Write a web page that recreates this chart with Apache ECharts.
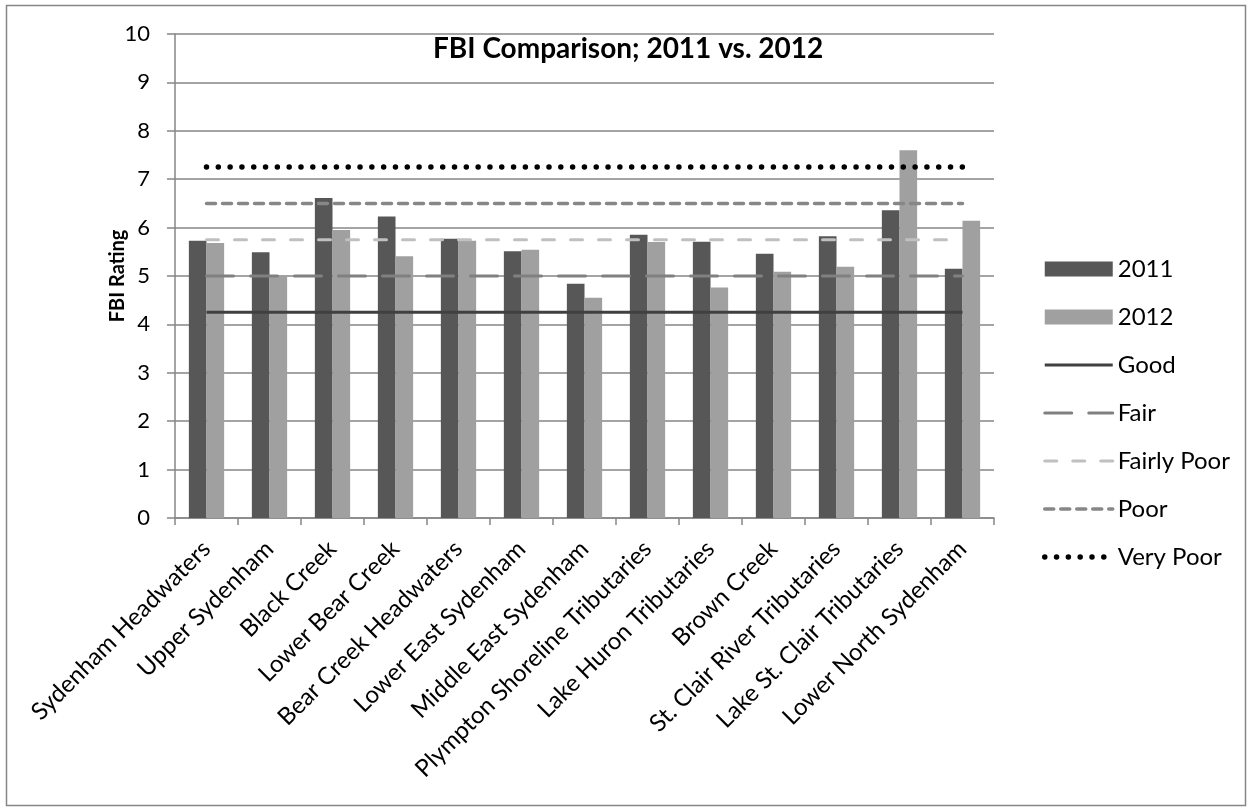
<!DOCTYPE html>
<html>
<head>
<meta charset="utf-8">
<title>FBI Comparison</title>
<script src="https://cdn.jsdelivr.net/npm/echarts@6/dist/echarts.min.js"></script>
<style>
  html, body { margin: 0; padding: 0; background: #fff; }
  #chart { width: 1253px; height: 812px; }
</style>
</head>
<body>
<div id="chart"></div>
<script>
// 分类（流域）
var categories = [
  'Sydenham Headwaters', 'Upper Sydenham', 'Black Creek', 'Lower Bear Creek',
  'Bear Creek Headwaters', 'Lower East Sydenham', 'Middle East Sydenham',
  'Plympton Shoreline Tributaries', 'Lake Huron Tributaries', 'Brown Creek',
  'St. Clair River Tributaries', 'Lake St. Clair Tributaries', 'Lower North Sydenham'
];
// FBI values
var fbi2011 = [5.73, 5.49, 6.61, 6.23, 5.77, 5.51, 4.84, 5.85, 5.71, 5.46, 5.82, 6.36, 5.15];
var fbi2012 = [5.68, 5.02, 5.95, 5.41, 5.73, 5.54, 4.55, 5.70, 4.76, 5.09, 5.19, 7.60, 6.14];
// rating thresholds
var ratingNames = ['Good', 'Fair', 'Fairly Poor', 'Poor', 'Very Poor'];
var ratingValues = [4.25, 5.0, 5.75, 6.5, 7.25];
var yTicks = [0, 1, 2, 3, 4, 5, 6, 7, 8, 9, 10];

var font = 'Lato, "Liberation Sans", sans-serif';
var gridColor = '#868686';

var chart = echarts.init(document.getElementById('chart'));

// line styles for the threshold series
var ratingStyles = [
  { color: '#404040', width: 3, type: 'solid' },
  { color: '#808080', width: 3, type: [27, 17], cap: 'round' },
  { color: '#c0c0c0', width: 3, type: [12, 16], cap: 'round' },
  { color: '#878787', width: 3.5, type: [9, 7], cap: 'round' },
  { color: '#000000', width: 5.5, type: [0.01, 11.8], cap: 'round' }
];

var series = [
  {
    name: '2011', type: 'bar', data: fbi2011,
    barGap: '0%', barCategoryGap: '44%',
    itemStyle: { color: '#575757' }
  },
  {
    name: '2012', type: 'bar', data: fbi2012,
    itemStyle: { color: '#a0a0a0' }
  }
];
ratingNames.forEach(function (n, i) {
  series.push({
    name: n, type: 'line',
    data: categories.map(function () { return ratingValues[i]; }),
    symbol: 'none',
    lineStyle: ratingStyles[i],
    itemStyle: { color: ratingStyles[i].color },
    z: 3
  });
});

var option = {
  animation: false,
  textStyle: { fontFamily: font },
  title: {
    text: 'FBI Comparison; 2011 vs. 2012',
    left: 428, top: 30,
    textStyle: { fontSize: 28, fontWeight: 'bold', color: '#000', fontFamily: font }
  },
  graphic: [{
    type: 'rect',
    shape: { x: 6.5, y: 5.5, width: 1239, height: 800 },
    style: { fill: 'none', stroke: gridColor, lineWidth: 1.5 },
    silent: true
  }],
  legend: {
    orient: 'vertical',
    left: 1037, top: 252,
    itemWidth: 68, itemHeight: 15,
    itemGap: 24,
    textStyle: { fontSize: 24, color: '#000', lineHeight: 24, fontFamily: font },
    data: [
      { name: '2011', icon: 'rect' },
      { name: '2012', icon: 'rect' }
    ].concat(ratingNames.map(function (n, i) {
      var s = ratingStyles[i];
      return {
        name: n,
        itemStyle: { opacity: 0 },
        lineStyle: { color: s.color, width: s.width, type: s.type, cap: s.cap || 'butt' }
      };
    }))
  },
  grid: { left: 175, right: 259, top: 34, bottom: 294 },
  xAxis: {
    type: 'category',
    data: categories,
    boundaryGap: true,
    axisLine: { lineStyle: { color: gridColor, width: 1.5 } },
    axisTick: { show: true, length: 7, interval: 0, lineStyle: { color: gridColor, width: 1.5 } },
    axisLabel: {
      interval: 0, rotate: 45, margin: 27,
      fontSize: 24, color: '#000', fontFamily: font
    },
    splitLine: { show: false }
  },
  yAxis: {
    type: 'value',
    min: yTicks[0], max: yTicks[yTicks.length - 1], interval: 1,
    name: 'FBI Rating',
    nameLocation: 'middle', nameRotate: 90, nameGap: 47,
    nameMoveOverlap: false,
    nameTextStyle: { fontSize: 20, fontWeight: 'bold', color: '#000', fontFamily: font },
    axisLine: { show: true, lineStyle: { color: gridColor, width: 1.5 } },
    axisTick: { show: true, length: 8, lineStyle: { color: gridColor, width: 1.5 } },
    axisLabel: { margin: 25, fontSize: 22, color: '#000', fontFamily: font },
    splitLine: { show: true, lineStyle: { color: gridColor, width: 1.5 } }
  },
  series: series
};

chart.setOption(option);
</script>
</body>
</html>
